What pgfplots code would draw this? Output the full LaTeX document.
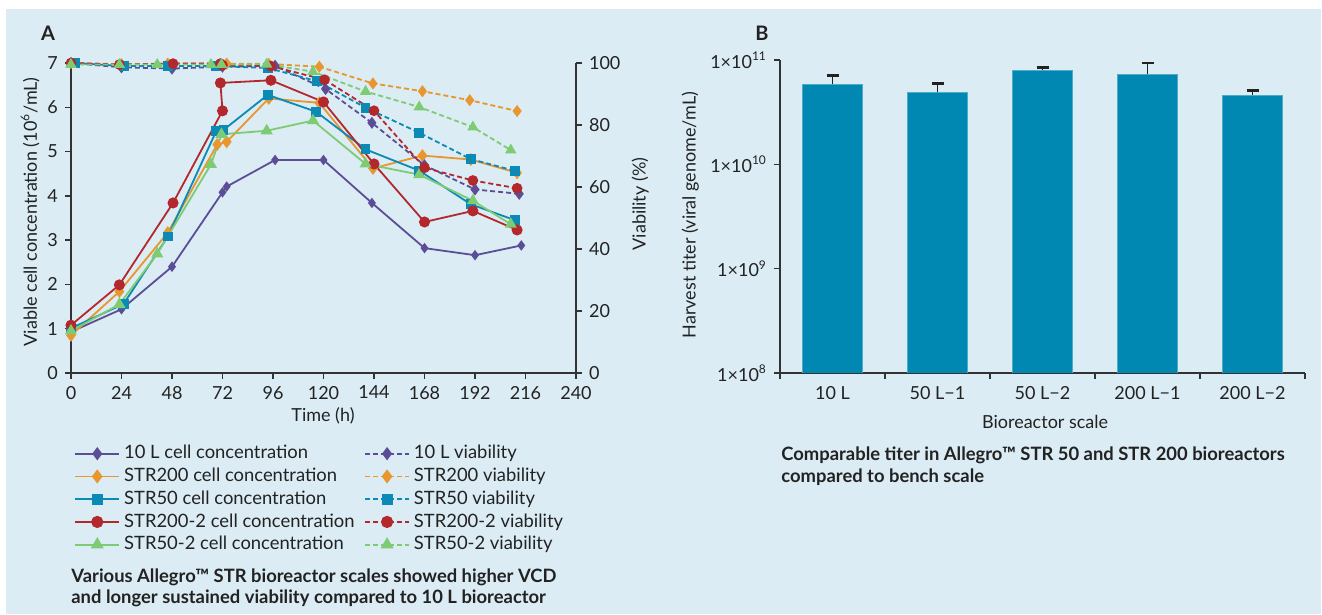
\documentclass[border=0pt]{standalone}
\usepackage{pgfplots}
\pgfplotsset{compat=1.18}
\usepackage{fontspec}
\setmainfont{Lato}
\definecolor{bg}{HTML}{DBECF4}
\definecolor{cpurple}{HTML}{5B4E96}
\definecolor{corange}{HTML}{E8962E}
\definecolor{cblue}{HTML}{0A8AB5}
\definecolor{cred}{HTML}{B3282D}
\definecolor{cgreen}{HTML}{7DCB72}
\definecolor{barblue}{HTML}{0088B2}
\definecolor{axisgray}{HTML}{333333}
\definecolor{txt}{HTML}{222222}
\pgfplotsset{
  common/.style={
    scale only axis, anchor=south west,
    tick align=outside, major tick length=3pt, minor tick length=3pt,
    axis line style={axisgray, line width=0.7pt, -},
    tick style={axisgray, line width=0.7pt},
    ticklabel style={font=\fontsize{9}{10}\selectfont, text=txt},
    label style={font=\fontsize{9}{10}\selectfont, text=txt},
    /pgf/number format/assume math mode=true,
  },
  cellline/.style={line width=0.9pt, solid},
  viabline/.style={line width=0.9pt, dash pattern=on 2.5pt off 1.5pt},
}
\newcommand{\cc}[1]{\makebox[118pt][l]{#1}}
\begin{document}
\begin{tikzpicture}[x=1pt,y=1pt]
\useasboundingbox (0,0) rectangle (661,307.5);
\fill[white] (0,0) rectangle (661,307.5);
\fill[bg] (3,0.5) rectangle (660.5,303);

% ---------- Panel A: cell concentration ----------
\begin{axis}[common,
  at={(35.5pt,121pt)}, width=252.5pt, height=155pt,
  xmin=0, xmax=240, ymin=0, ymax=7,
  axis y line*=left, axis x line*=bottom,
  xtick={0,24,...,240}, ytick={0,...,7},
  xlabel={Time (h)},
  ylabel={Viable cell concentration (10\textsuperscript{6}/mL)},
  xlabel style={at={(axis description cs:0.499,-0.139)}, anchor=center},
  ylabel style={at={(axis description cs:-0.081,0.52)}, anchor=center},
  clip=false,
]
\addplot[cellline, cpurple, mark=diamond*, mark size=1.9pt] coordinates {
(0,0.93) (24,1.44) (48,2.40) (72,4.08) (74,4.21) (97,4.81) (120,4.81) (143,3.84) (168,2.82) (192,2.66) (214,2.88)};
\addplot[cellline, corange, mark=diamond*, mark size=2.5pt] coordinates {
(0,0.85) (23,1.84) (46,3.17) (69.5,5.16) (74,5.22) (94,6.20) (118,6.10) (143.5,4.62) (167,4.91) (190,4.82) (212,4.52)};
\addplot[cellline, cblue, mark=square*, mark size=2pt] coordinates {
(0,1.01) (25,1.56) (46,3.08) (69,5.46) (72.5,5.49) (93.5,6.28) (116.5,5.90) (140,5.05) (165.5,4.57) (190,3.81) (211,3.45)};
\addplot[cellline, cred, mark=*, mark size=2.3pt] coordinates {
(0,1.08) (23,1.99) (48.5,3.84) (72,5.92) (71,6.55) (95,6.61) (120,6.12) (144,4.72) (168,3.41) (191,3.66) (212,3.23)};
\addplot[cellline, cgreen, mark=triangle*, mark size=2.6pt] coordinates {
(0,0.95) (23,1.55) (41,2.69) (66.5,4.71) (71.5,5.39) (93,5.47) (115,5.70) (140,4.72) (165.5,4.48) (191,3.89) (209,3.36)};
\end{axis}

% ---------- Panel A: viability ----------
\begin{axis}[common,
  at={(35.5pt,121pt)}, width=252.5pt, height=155pt,
  xmin=0, xmax=240, ymin=0, ymax=100,
  axis y line*=right, axis x line=none,
  ytick={0,20,...,100},
  ylabel={Viability (\%)},
  ylabel style={at={(axis description cs:1.127,0.545)}, anchor=center},
  clip=false,
  legend columns=2,
  legend cell align=left,
  legend image code/.code={\draw[mark repeat=2,mark phase=2,#1] plot coordinates {(0pt,0pt) (11pt,0pt) (22pt,0pt)};},
  legend style={at={(axis description cs:-0.006,-0.2065)}, anchor=north west,
    draw=none, fill=none, font=\fontsize{9.2}{10}\selectfont, text=txt, row sep=-0.9pt},
]
\addplot[viabline, cpurple, mark=diamond*, mark size=2.3pt, mark options={solid}, forget plot] coordinates {
(0,100) (24,98.6) (48,98.2) (72,98.8) (97,99.1) (121,91.6) (143,80.7) (168,67) (192,59.2) (213,57.8)};
\addplot[viabline, corange, mark=diamond*, mark size=2.3pt, mark options={solid}, forget plot] coordinates {
(0,100) (24,99.6) (46,99.8) (74,99.8) (94,99.7) (118,98.8) (143.5,93.4) (167,90.9) (189.5,88) (212,84.5)};
\addplot[viabline, cblue, mark=square*, mark size=2pt, mark options={solid}, forget plot] coordinates {
(2,100) (25,99) (46,99) (69,99) (93.5,98.4) (117,94.1) (140,85.6) (165.5,77.5) (190,69) (211,65.2)};
\addplot[viabline, cred, mark=*, mark size=2.2pt, mark options={solid}, forget plot] coordinates {
(0,100) (23,99.5) (48.5,99.8) (71,99.8) (72,99.3) (95,99) (120.5,94.6) (144,84.6) (168,66.2) (191,62.1) (212,59.6)};
\addplot[viabline, cgreen, mark=triangle*, mark size=2.4pt, mark options={solid}, forget plot] coordinates {
(0,99.5) (23,99.5) (41,99.5) (66.5,99.5) (71.5,99.5) (93,99.6) (115,97.2) (140,90.8) (165.5,85.8) (191,79.3) (209,71.9)};
% legend
\addlegendimage{cellline, cpurple, mark=diamond*, mark size=2.6pt}
\addlegendentry{\cc{10 L cell concentration}}
\addlegendimage{viabline, cpurple, mark=diamond*, mark size=2.6pt, mark options={solid}}
\addlegendentry{10 L viability}
\addlegendimage{cellline, corange, mark=diamond*, mark size=2.8pt}
\addlegendentry{\cc{STR200 cell concentration}}
\addlegendimage{viabline, corange, mark=diamond*, mark size=2.8pt, mark options={solid}}
\addlegendentry{STR200 viability}
\addlegendimage{cellline, cblue, mark=square*, mark size=2.3pt}
\addlegendentry{\cc{STR50 cell concentration}}
\addlegendimage{viabline, cblue, mark=square*, mark size=2.3pt, mark options={solid}}
\addlegendentry{STR50 viability}
\addlegendimage{cellline, cred, mark=*, mark size=2.6pt}
\addlegendentry{\cc{STR200-2 cell concentration}}
\addlegendimage{viabline, cred, mark=*, mark size=2.6pt, mark options={solid}}
\addlegendentry{STR200-2 viability}
\addlegendimage{cellline, cgreen, mark=triangle*, mark size=2.9pt}
\addlegendentry{\cc{STR50-2 cell concentration}}
\addlegendimage{viabline, cgreen, mark=triangle*, mark size=2.9pt, mark options={solid}}
\addlegendentry{STR50-2 viability}
\end{axis}

% ---------- Panel B ----------
\begin{axis}[common,
  at={(390pt,121pt)}, width=262.5pt, height=156.5pt,
  ymode=log, ymin=1e8, ymax=1e11, log origin y=infty,
  xmin=-0.5, xmax=4.5,
  axis y line*=left, axis x line*=bottom,
  ybar, bar width=30pt,
  xtick={0,...,4},
  xticklabels={10 L, 50 L−1, 50 L−2, 200 L−1, 200 L−2},
  major x tick style={draw=none},
  minor xtick={-0.5,0.5,1.5,2.5,3.5,4.5},
  ytick={1e8,1e9,1e10,1e11},
  yticklabels={1×10\textsuperscript{8},1×10\textsuperscript{9},1×10\textsuperscript{10},1×10\textsuperscript{11}},
  yminorticks=false,
  xlabel={Bioreactor scale},
  ylabel={Harvest titer (viral genome/mL)},
  xlabel style={at={(axis description cs:0.505,-0.157)}, anchor=center},
  ylabel style={at={(axis description cs:-0.171,0.505)}, anchor=center},
]
\addplot[fill=barblue, draw=barblue!70!white, line width=0.4pt,
  error bars/.cd, y dir=plus, y explicit,
  error bar style={txt, line width=0.9pt},
  error mark options={rotate=90, mark size=3pt, line width=1.3pt, txt}] coordinates {
(0,5.85e10) +- (0,1.22e10)
(1,4.90e10) +- (0,1.08e10)
(2,7.96e10) +- (0,0.48e10)
(3,7.30e10) +- (0,2.05e10)
(4,4.59e10) +- (0,0.53e10)};
\end{axis}

% ---------- panel letters and captions ----------
\node[font=\bfseries\fontsize{10}{12}\selectfont, text=txt] at (24,291) {A};
\node[font=\bfseries\fontsize{10}{12}\selectfont, text=txt] at (381,291) {B};
\node[anchor=west, inner sep=0, font=\bfseries\fontsize{9.2}{11}\selectfont, text=txt] at (35.5,19) {Various Allegro™ STR bioreactor scales showed higher VCD};
\node[anchor=west, inner sep=0, font=\bfseries\fontsize{9.2}{11}\selectfont, text=txt] at (35.5,8.5) {and longer sustained viability compared to 10 L bioreactor};
\node[anchor=west, inner sep=0, font=\bfseries\fontsize{9.2}{11}\selectfont, text=txt] at (390.5,80) {Comparable titer in Allegro™ STR 50 and STR 200 bioreactors};
\node[anchor=west, inner sep=0, font=\bfseries\fontsize{9.2}{11}\selectfont, text=txt] at (390.5,69) {compared to bench scale};
\end{tikzpicture}
\end{document}
